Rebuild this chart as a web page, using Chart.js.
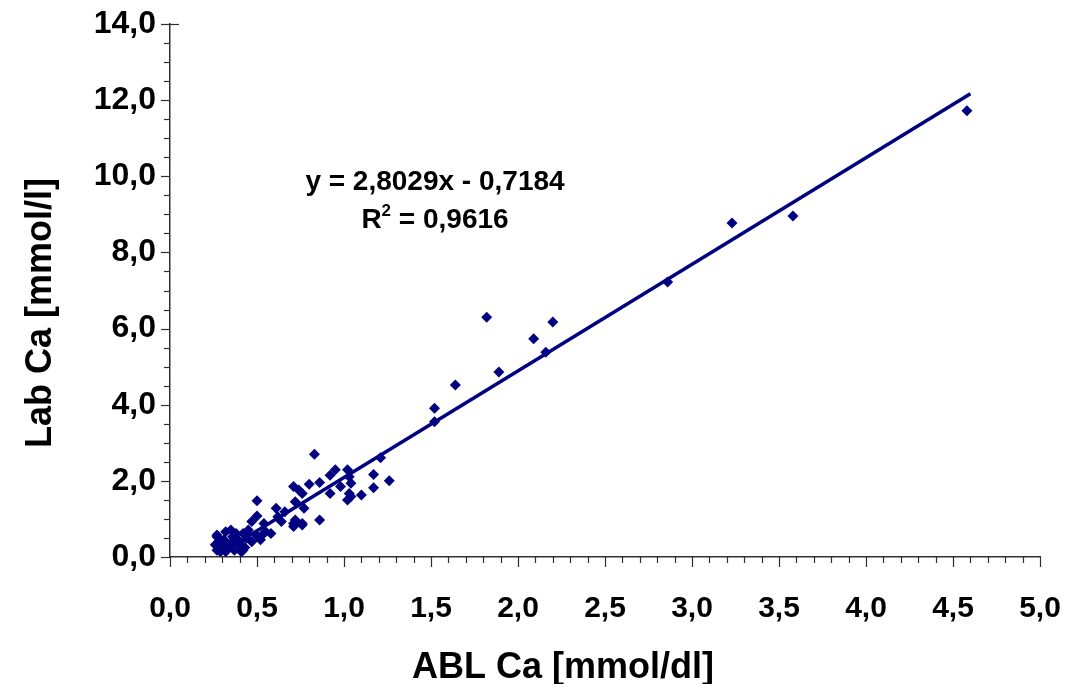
<!DOCTYPE html>
<html>
<head>
<meta charset="utf-8">
<script src="https://cdn.jsdelivr.net/npm/chart.js@4/dist/chart.umd.min.js"></script>
<style>
html,body{margin:0;padding:0;background:#fff;}
#wrap{width:1071px;height:684px;position:relative;}
</style>
</head>
<body>
<div id="wrap"><canvas id="c" width="1071" height="684"></canvas></div>
<script>
// ABL Ca [mmol/dl] (x) vs Lab Ca [mmol/l] (y)
const ablCa = [
  4.58, 3.58, 3.23, 2.86, 2.20, 2.09, 2.16, 1.82, 1.89, 1.64, 1.52, 1.52,
  0.83, 1.21, 1.26, 1.17, 1.17, 1.10, 1.03, 1.02, 1.04, 1.04, 1.02, 1.03,
  0.95, 0.92, 0.98, 0.92, 0.86, 0.80, 0.86, 0.71, 0.74, 0.76, 0.72, 0.77,
  0.66, 0.61, 0.62, 0.64, 0.72, 0.71, 0.76, 0.71, 0.76, 0.50, 0.50, 0.47,
  0.54, 0.58, 0.55, 0.50, 0.53, 0.52, 0.47, 0.45, 0.42, 0.38, 0.35, 0.32,
  0.27, 0.27, 0.28, 0.26, 0.27, 0.29, 0.31, 0.32, 0.32, 0.35, 0.37, 0.40,
  0.42, 0.43, 0.39, 0.36, 0.40, 0.44, 0.33, 0.30, 0.41
];
const labCa = [
  11.72, 8.96, 8.77, 7.22, 6.17, 5.73, 5.38, 6.30, 4.86, 4.52, 3.91, 3.55,
  2.70, 2.61, 2.00, 2.17, 1.82, 1.63, 1.67, 1.50, 1.59, 1.94, 2.29, 2.11,
  2.29, 2.15, 1.85, 1.67, 1.96, 1.91, 0.97, 1.85, 1.76, 1.67, 1.45, 1.28,
  1.19, 1.28, 1.06, 0.93, 0.97, 0.88, 0.84, 0.80, 0.88, 1.48, 1.08, 0.93,
  0.88, 0.62, 0.66, 0.55, 0.58, 0.45, 0.40, 0.71, 0.62, 0.62, 0.71, 0.66,
  0.58, 0.53, 0.40, 0.32, 0.18, 0.14, 0.45, 0.23, 0.14, 0.36, 0.18, 0.32,
  0.18, 0.25, 0.45, 0.53, 0.40, 0.49, 0.30, 0.28, 0.14
];
// Trend line end points
const trendX = [0.28, 4.60];
const trendY = [0.07, 12.17];
const eqLine1 = "y = 2,8029x - 0,7184";
const eqLine2 = ["R", "2", " = 0,9616"];
const xTitle = "ABL Ca [mmol/dl]";
const yTitle = "Lab Ca [mmol/l]";

const NAVY = '#000080';
const AXIS = '#303030';
const FONT = '"Liberation Sans", Arial, sans-serif';
const points = ablCa.map((x, i) => ({x: x, y: labCa[i]}));
const trend = trendX.map((x, i) => ({x: x, y: trendY[i]}));

const fmt = v => v.toFixed(1).replace('.', ',');

const extras = {
  id: 'extras',
  afterDraw(chart) {
    const ctx = chart.ctx;
    const xs = chart.scales.x, ys = chart.scales.y;
    const ca = chart.chartArea;
    ctx.save();
    ctx.strokeStyle = AXIS;
    ctx.lineWidth = 1.2;
    // y ticks: minor every 0.5, major every 2
    for (let v = 0; v <= 14.0001; v += 0.5) {
      const py = Math.round(ys.getPixelForValue(v)) + 0.5;
      const major = Math.abs(v / 2 - Math.round(v / 2)) < 1e-6;
      ctx.beginPath();
      ctx.moveTo(ca.left - (major ? 9 : 6), py);
      ctx.lineTo(v >= 14 ? ca.left + 9 : ca.left, py);
      ctx.stroke();
    }
    // x ticks: minor every 0.1, major every 0.5
    for (let i = 0; i <= 50; i++) {
      const v = i / 10;
      const px = Math.round(xs.getPixelForValue(v)) + 0.5;
      const major = i % 5 === 0;
      ctx.beginPath();
      ctx.moveTo(px, ca.bottom);
      ctx.lineTo(px, ca.bottom + (major ? 10 : 6));
      ctx.stroke();
    }
    ctx.fillStyle = '#000';
    // axis titles
    ctx.font = 'bold 36px ' + FONT;
    ctx.textAlign = 'center';
    ctx.textBaseline = 'alphabetic';
    ctx.fillText(xTitle, 563, 678);
    ctx.save();
    ctx.translate(51, 313);
    ctx.rotate(-Math.PI / 2);
    ctx.fillText(yTitle, 0, 0);
    ctx.restore();
    // equation text
    ctx.font = 'bold 28px ' + FONT;
    ctx.textAlign = 'center';
    ctx.fillText(eqLine1, 435, 190);
    const wR = ctx.measureText(eqLine2[0]).width;
    const wRest = ctx.measureText(eqLine2[2]).width;
    ctx.font = 'bold 17px ' + FONT;
    const wSup = ctx.measureText(eqLine2[1]).width;
    const total = wR + wSup + wRest;
    let x0 = 435 - total / 2;
    ctx.textAlign = 'left';
    ctx.font = 'bold 28px ' + FONT;
    ctx.fillText(eqLine2[0], x0, 228);
    ctx.font = 'bold 17px ' + FONT;
    ctx.fillText(eqLine2[1], x0 + wR, 216);
    ctx.font = 'bold 28px ' + FONT;
    ctx.fillText(eqLine2[2], x0 + wR + wSup, 228);
    ctx.restore();
  }
};

new Chart(document.getElementById('c'), {
  type: 'scatter',
  data: {
    datasets: [
      {
        data: trend,
        type: 'line',
        showLine: true,
        borderColor: NAVY,
        borderWidth: 3.5,
        pointRadius: 0,
        fill: false
      },
      {
        data: points,
        backgroundColor: NAVY,
        borderColor: NAVY,
        borderWidth: 0,
        pointStyle: 'rectRot',
        pointRadius: 5.5,
        pointHoverRadius: 5.5
      }
    ]
  },
  options: {
    responsive: false,
    animation: false,
    layout: {padding: {left: 0, right: 31, top: 24, bottom: 0}},
    plugins: {legend: {display: false}, tooltip: {enabled: false}},
    scales: {
      x: {
        type: 'linear', min: 0, max: 5,
        afterFit(s) { s.height = 127; s.paddingLeft = 0; s.paddingRight = 0; },
        border: {display: true, color: AXIS, width: 1.5},
        grid: {display: false, drawOnChartArea: false, drawTicks: false},
        ticks: {
          stepSize: 0.5, padding: 34, color: '#000',
          font: {family: FONT, weight: 'bold', size: 30},
          callback: v => fmt(v),
          maxRotation: 0, autoSkip: false
        }
      },
      y: {
        type: 'linear', min: 0, max: 14,
        afterFit(s) { s.width = 170; s.paddingTop = 0; s.paddingBottom = 0; },
        border: {display: true, color: AXIS, width: 1.5},
        grid: {display: false, drawOnChartArea: false, drawTicks: false},
        ticks: {
          stepSize: 2, padding: 14, color: '#000',
          font: {family: FONT, weight: 'bold', size: 32},
          callback: v => fmt(v)
        }
      }
    }
  },
  plugins: [extras]
});
</script>
</body>
</html>
